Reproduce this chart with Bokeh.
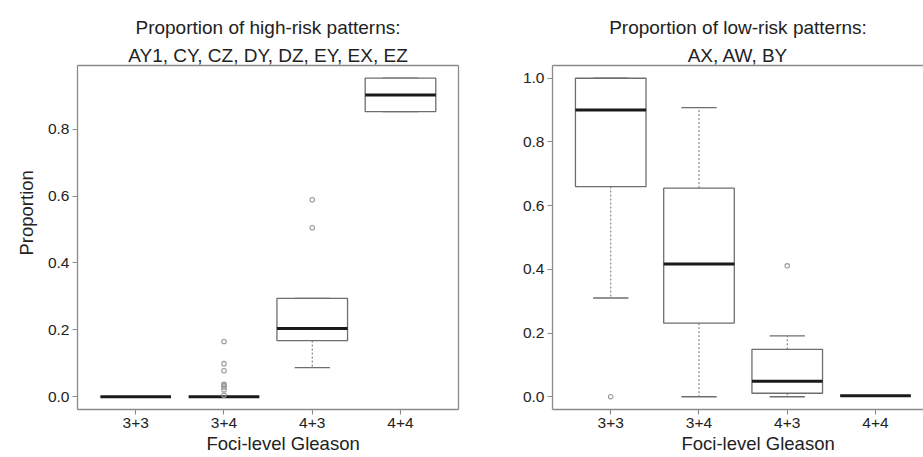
from bokeh.plotting import figure
from bokeh.models import LinearAxis, FixedTicker, Range1d, Title, PrintfTickFormatter
from bokeh.layouts import row
from bokeh.embed import file_html
from bokeh.resources import INLINE

# ---------------- data ----------------
categories = ["3+3", "3+4", "4+3", "4+4"]

# Left panel: proportion of high-risk patterns
high_lower_whisker = [0.0, 0.0, 0.087, 0.852]
high_q1 = [0.0, 0.0, 0.168, 0.852]
high_median = [0.0, 0.0, 0.204, 0.902]
high_q3 = [0.0, 0.0, 0.294, 0.952]
high_upper_whisker = [0.0, 0.0, 0.294, 0.952]
high_outlier_cat = ["3+4", "3+4", "3+4", "3+4", "3+4", "3+4", "3+4", "3+4", "4+3", "4+3"]
high_outlier_val = [0.165, 0.099, 0.078, 0.037, 0.034, 0.029, 0.021, 0.005, 0.589, 0.505]

# Right panel: proportion of low-risk patterns
low_lower_whisker = [0.31, 0.0, 0.0, 0.003]
low_q1 = [0.66, 0.231, 0.011, 0.003]
low_median = [0.90, 0.417, 0.049, 0.003]
low_q3 = [1.0, 0.655, 0.149, 0.003]
low_upper_whisker = [1.0, 0.908, 0.191, 0.003]
low_outlier_cat = ["3+3", "4+3"]
low_outlier_val = [0.0, 0.411]

high_ticks = [0.0, 0.2, 0.4, 0.6, 0.8]
low_ticks = [0.0, 0.2, 0.4, 0.6, 0.8, 1.0]

high_title = ["Proportion of high-risk patterns:", "AY1, CY, CZ, DY, DZ, EY, EX, EZ"]
low_title = ["Proportion of low-risk patterns:", "AX, AW, BY"]
x_title = "Foci-level Gleason"
y_title = "Proportion"

# ---------------- style ----------------
FONT = "Liberation Sans"
TEXT = "#222222"
FRAME = "#8a8a8a"
BOXC = "#6e6e6e"
MED = "#1a1a1a"
PX_PER_CAT = 88.25
X0 = 0.34
FIG_H = 457


def style_axis(ax, tick_size="15.5px"):
    ax.axis_line_color = FRAME
    ax.axis_line_width = 1.3
    ax.major_tick_line_color = FRAME
    ax.major_tick_line_width = 1.1
    ax.major_tick_out = 5
    ax.major_tick_in = 0
    ax.minor_tick_line_color = None
    ax.major_label_text_font = FONT
    ax.major_label_text_font_size = tick_size
    ax.major_label_text_color = TEXT
    ax.major_label_standoff = 3


def border_axis(p, side):
    ax = LinearAxis(ticker=FixedTicker(ticks=[]), axis_line_color=FRAME,
                    axis_line_width=1.3, major_tick_out=0, major_tick_in=0,
                    minor_tick_out=0, minor_tick_in=0, major_label_standoff=0,
                    major_label_text_font_size="0px")
    p.add_layout(ax, side)


def make_panel(width, min_left, min_right, frame_w, y_lo, y_hi, yticks, titles,
               q1, med, q3, lw, uw, out_cat, out_val, ylab=None, right_border=True):
    x_end = X0 + frame_w / PX_PER_CAT
    p = figure(width=width, height=FIG_H, x_range=Range1d(X0, x_end),
               y_range=Range1d(y_lo, y_hi), output_backend="svg",
               toolbar_location=None, title_location=None,
               min_border_left=min_left, min_border_right=min_right,
               min_border_top=65, min_border_bottom=48,
               outline_line_color=None, background_fill_color="white",
               border_fill_color="white")
    p.grid.visible = False
    p.xaxis.ticker = FixedTicker(ticks=list(range(1, len(categories) + 1)))
    p.xaxis.major_label_overrides = {i + 1: c for i, c in enumerate(categories)}
    p.yaxis.ticker = FixedTicker(ticks=yticks)
    p.yaxis.formatter = PrintfTickFormatter(format="%.1f")
    for ax in p.xaxis + p.yaxis:
        style_axis(ax)
    border_axis(p, "above")
    if right_border:
        border_axis(p, "right")

    xs = list(range(1, len(categories) + 1))
    half, cap = 0.4, 0.2
    # whiskers
    p.segment(x0=xs, y0=q3, x1=xs, y1=uw, line_color=BOXC, line_width=1, line_dash="2 2")
    p.segment(x0=xs, y0=q1, x1=xs, y1=lw, line_color=BOXC, line_width=1, line_dash="2 2")
    # staples
    p.segment(x0=[x - cap for x in xs], y0=uw, x1=[x + cap for x in xs], y1=uw,
              line_color=BOXC, line_width=1.3)
    p.segment(x0=[x - cap for x in xs], y0=lw, x1=[x + cap for x in xs], y1=lw,
              line_color=BOXC, line_width=1.3)
    # boxes
    p.quad(left=[x - half for x in xs], right=[x + half for x in xs], bottom=q1, top=q3,
           fill_color="white", line_color=BOXC, line_width=1.3)
    # medians
    p.segment(x0=[x - half for x in xs], y0=med, x1=[x + half for x in xs], y1=med,
              line_color=MED, line_width=3)
    # outliers
    ox = [categories.index(c) + 1 for c in out_cat]
    p.scatter(x=ox, y=out_val, marker="circle", size=4.5, fill_color=None,
              line_color="#9a9a9a", line_width=1.1)

    # titles (line 2 closest to the frame)
    p.add_layout(Title(text=titles[1], align="center", text_font=FONT,
                       text_font_size="19px", text_font_style="normal",
                       text_color=TEXT, standoff=0), "above")
    p.add_layout(Title(text=titles[0], align="center", text_font=FONT,
                       text_font_size="19px", text_font_style="normal",
                       text_color=TEXT, standoff=9), "above")
    # x axis title
    p.add_layout(Title(text=x_title, align="left", offset=129, text_font=FONT,
                       text_font_size="18.5px", text_font_style="normal",
                       text_color=TEXT, standoff=0), "below")
    if ylab:
        p.add_layout(Title(text=ylab, align="left", offset=154, text_font=FONT,
                           text_font_size="18.5px", text_font_style="normal",
                           text_color=TEXT, standoff=15), "left")
    return p


p1 = make_panel(460, 77, 2, 381, -0.038, 0.990, high_ticks, high_title,
                high_q1, high_median, high_q3, high_lower_whisker, high_upper_whisker,
                high_outlier_cat, high_outlier_val, ylab=y_title, right_border=True)
p2 = make_panel(463, 92, 0, 371, -0.04, 1.04, low_ticks, low_title,
                low_q1, low_median, low_q3, low_lower_whisker, low_upper_whisker,
                low_outlier_cat, low_outlier_val, ylab=None, right_border=False)

layout = row(p1, p2)
open("out.html", "w").write(file_html(layout, INLINE))
